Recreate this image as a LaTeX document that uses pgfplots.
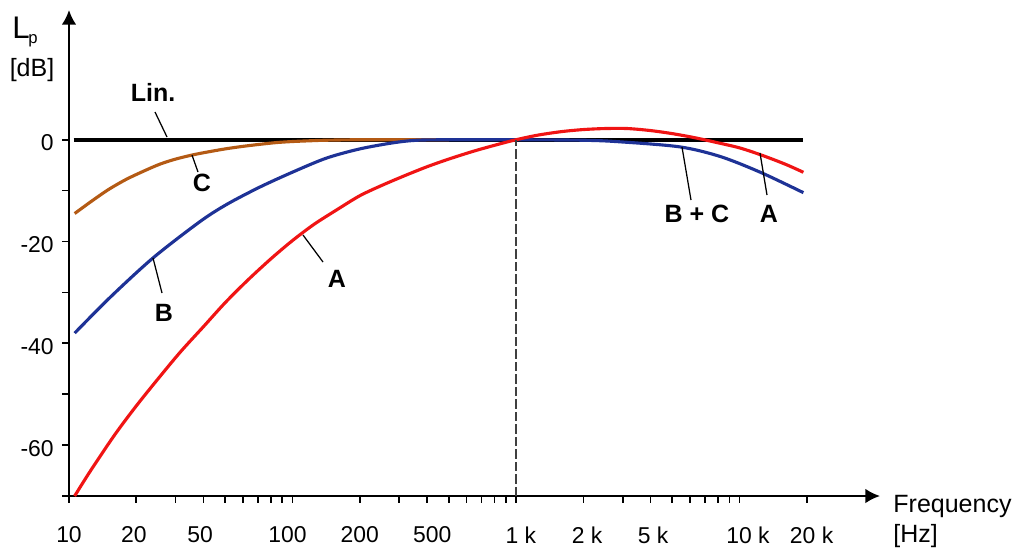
\documentclass[border=0pt]{standalone}
\usepackage{fontspec}
\setmainfont{Liberation Sans}
\usepackage{pgfplots}
\pgfplotsset{compat=1.18}
\usetikzlibrary{arrows.meta}

\definecolor{curveA}{RGB}{240,20,20}
\definecolor{curveB}{RGB}{30,50,150}
\definecolor{curveC}{RGB}{180,90,20}

\begin{document}
\begin{tikzpicture}[font=\fontsize{11}{13}\selectfont]
% page size: 1 px of the reference = 0.48pt, axis corner (10 Hz,-70 dB) at origin
\useasboundingbox (-33.12pt,-24.96pt) rectangle (454.08pt,238.08pt);
\begin{axis}[
    name=ax, at={(0,0)}, anchor=south west,
    scale only axis, width=389.3pt, height=233.3pt,
    xmode=log, log basis x=10,
    xmin=10, xmax=42500, ymin=-70, ymax=25.5,
    enlargelimits=false,
    axis lines=left,
    axis line style={line width=1.1pt, -{Latex[length=7pt,width=7pt]}},
    tick align=outside,
    major tick length=3.3pt, minor tick length=3.3pt,
    tick style={black, line width=0.8pt},
    xtick={10,19.5,38.6,95,200,422,1050,2080,4100,10900,21000},
    xticklabels={10,20,50,100,200,500,1 k,2 k,5 k,10 k,20 k},
    major x tick style={draw=none},
    minor xtick={10,20,30,40,50,60,70,80,90,100,200,300,400,500,600,700,800,900,
                 1000,2000,3000,4000,5000,6000,7000,8000,9000,10000,20000},
    ytick={-60,-40,-20,0},
    yticklabels={-60,-40,-20,0},
    minor ytick={-70,-50,-30,-10},
    x tick label style={yshift=-8pt},
    y tick label style={xshift=-0.5pt, yshift=-1.5pt},
]
% Lin.
\addplot[black, line width=1.8pt] coordinates {(10.5,0) (19300,0)};
% C
\addplot[curveC, line width=1.5pt, smooth] coordinates {
    (10.6,-14.5) (12.5,-12.2) (15,-9.8) (18,-7.8) (21.5,-6.2) (25.5,-4.8)
    (30,-3.8) (36,-2.95) (43,-2.3) (50.8,-1.75) (60,-1.3) (71.4,-0.9)
    (85,-0.55) (100,-0.35) (120,-0.2) (140,-0.1) (200,0) (500,0)
};
% B (+C at high frequencies)
\addplot[curveB, line width=1.5pt, smooth] coordinates {
    (10.6,-38) (15.25,-31) (23.8,-23.2) (38.5,-16.1) (50.8,-12.7)
    (71.4,-9.3) (100.8,-6.3) (142,-3.6) (200,-1.8) (282,-0.6) (360,-0.1)
    (500,0) (1000,0) (2000,-0.1) (2900,-0.4) (5400,-1.4) (8200,-3.3)
    (12400,-6.4) (19300,-10.4)
};
% A
\addplot[curveA, line width=1.5pt, smooth] coordinates {
    (10.6,-70) (12.5,-65.0) (16,-58.0) (20,-52.3) (25,-47.0) (31.5,-41.7)
    (40,-36.7) (50,-32.0) (63,-27.6) (80,-23.4) (100,-19.8) (125,-16.6)
    (160,-13.6) (200,-11.0) (250,-9.0) (320,-7.0) (400,-5.3) (500,-3.8)
    (640,-2.3) (800,-1.1) (1000,0) (1250,0.9) (1600,1.6) (2000,2.0)
    (2500,2.2) (3150,2.2) (4000,1.8) (5000,1.2) (6300,0.4) (8000,-0.6)
    (10000,-1.6) (12500,-3.0) (16000,-4.8) (19300,-6.4)
};
% 1 kHz reference
\addplot[black!75, line width=0.8pt, dash pattern=on 4.5pt off 1.5pt]
    coordinates {(1000,-70) (1000,0)};
\end{axis}

% labels, placed in reference pixel coordinates
\begin{scope}[x=0.48pt, y=-0.48pt, shift={(-33.12pt,238.08pt)}]
  \node[anchor=base west, inner sep=0] at (12,38) {\fontsize{15}{18}\selectfont L};
  \node[anchor=base west, inner sep=0, font=\footnotesize] at (28,43) {p};
  \node[font=\fontsize{12}{14}\selectfont] at (32,70) {[dB]};
  \node[anchor=west, inner sep=0, font=\fontsize{12}{14}\selectfont] at (893,506) {Frequency};
  \node[anchor=west, inner sep=0, font=\fontsize{12}{14}\selectfont] at (893,536) {[Hz]};

  \begin{scope}[every node/.style={font=\fontsize{12}{14}\selectfont\bfseries}]
    \node at (153,92) {Lin.};
    \draw[line width=0.6pt] (155,112) -- (167,137);
    \node at (202,183) {C};
    \draw[line width=0.6pt] (192,155) -- (198,172);
    \node at (164,313) {B};
    \draw[line width=0.6pt] (153,258) -- (162,293);
    \node at (337,279) {A};
    \draw[line width=0.6pt] (303,235) -- (323,262);
    \node at (697,214) {B + C};
    \draw[line width=0.6pt] (682,147) -- (691,200);
    \node at (769,214) {A};
    \draw[line width=0.6pt] (760,153) -- (767,195);
  \end{scope}
\end{scope}
\end{tikzpicture}
\end{document}
